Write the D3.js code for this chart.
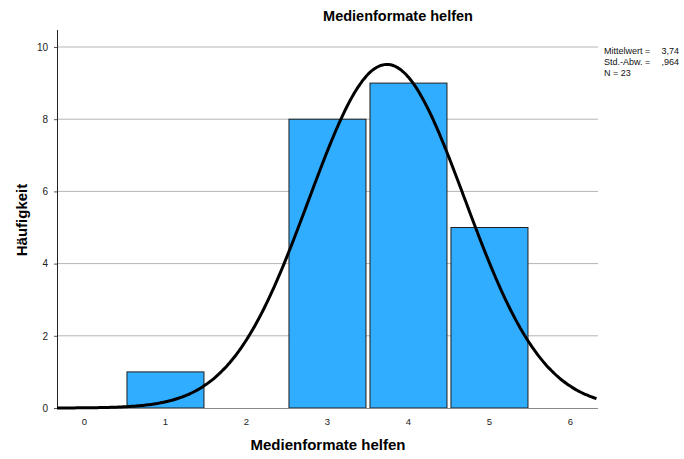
<!DOCTYPE html>
<html>
<head>
<meta charset="utf-8">
<script src="https://cdn.jsdelivr.net/npm/d3@7"></script>
<style>
  body { margin: 0; background: #fff; }
  text { font-family: Arial, "Liberation Sans", sans-serif; }
</style>
</head>
<body>
<svg width="684" height="459"></svg>
<script>
// Histogram data (bin centers and counts)
const bins = [1, 3, 4, 5];
const counts = [1, 8, 9, 5];
const xTicks = [0, 1, 2, 3, 4, 5, 6];
const yTicks = [0, 2, 4, 6, 8, 10];
const mean = 3.74, sd = 0.964, n = 23;
const statLabels = ["Mittelwert =", "Std.-Abw. =", "N = 23"];
const statValues = ["3,74", ",964", ""];

const svg = d3.select("svg");
const plotL = 57, plotR = 598, plotT = 30, plotB = 408;

const x = d3.scaleLinear().domain([-0.333, 6.346]).range([plotL, plotR]);
const y = d3.scaleLinear().domain([0, 10]).range([plotB, 47]);

// gridlines
svg.append("g")
    .selectAll("line")
    .data(yTicks.filter(d => d > 0))
    .enter().append("line")
    .attr("x1", plotL).attr("x2", plotR)
    .attr("y1", d => y(d)).attr("y2", d => y(d))
    .attr("stroke", "#b4b4b4")
    .attr("stroke-width", 1);

// bars
svg.append("g")
    .selectAll("rect")
    .data(bins)
    .enter().append("rect")
    .attr("x", d => x(d - 0.5) + 2.5)
    .attr("y", (d, i) => y(counts[i]))
    .attr("width", x(1) - x(0) - 4)
    .attr("height", (d, i) => y(0) - y(counts[i]))
    .attr("fill", "#31adff")
    .attr("stroke", "#1e1e1e")
    .attr("stroke-width", 1);

// x axis line
svg.append("line")
    .attr("x1", plotL).attr("x2", plotR)
    .attr("y1", plotB + 0.5).attr("y2", plotB + 0.5)
    .attr("stroke", "#8a8a8a");

// y axis
const yAxis = svg.append("g")
    .attr("transform", `translate(${plotL},0)`)
    .call(d3.axisLeft(y).tickValues(yTicks).tickSize(3).tickFormat(d3.format("d")));
yAxis.select(".domain").remove();
yAxis.selectAll("line").attr("stroke", "#555");
yAxis.selectAll("text").attr("font-size", 10).attr("fill", "#222").attr("x", -9);
svg.append("line")
    .attr("x1", plotL + 0.5).attr("x2", plotL + 0.5)
    .attr("y1", plotT).attr("y2", plotB + 1)
    .attr("stroke", "#222");

// x axis labels
const xAxis = svg.append("g")
    .attr("transform", `translate(0,${plotB})`)
    .call(d3.axisBottom(x).tickValues(xTicks).tickSize(0).tickFormat(d3.format("d")));
xAxis.select(".domain").remove();
xAxis.selectAll("text").attr("font-size", 9.5).attr("fill", "#222").attr("dy", "1.45em");

// normal curve
const curvePts = d3.range(-0.333, 6.347, 0.02).map(v => [v,
    n * Math.exp(-0.5 * Math.pow((v - mean) / sd, 2)) / (sd * Math.sqrt(2 * Math.PI))]);
svg.append("path")
    .datum(curvePts)
    .attr("d", d3.line().x(d => x(d[0])).y(d => y(d[1])).curve(d3.curveBasis))
    .attr("fill", "none")
    .attr("stroke", "#000")
    .attr("stroke-width", 3);

// titles
svg.append("text")
    .attr("x", 398).attr("y", 21)
    .attr("text-anchor", "middle")
    .attr("font-size", 14.5).attr("font-weight", "bold")
    .text("Medienformate helfen");

svg.append("text")
    .attr("x", 328).attr("y", 450)
    .attr("text-anchor", "middle")
    .attr("font-size", 15).attr("font-weight", "bold")
    .text("Medienformate helfen");

svg.append("text")
    .attr("transform", "translate(27,220) rotate(-90)")
    .attr("text-anchor", "middle")
    .attr("font-size", 15).attr("font-weight", "bold")
    .text("Häufigkeit");

// stats legend
const stats = svg.append("g").attr("font-size", 9).attr("fill", "#111");
stats.selectAll(".lab")
    .data(statLabels)
    .enter().append("text")
    .attr("x", 604)
    .attr("y", (d, i) => 54 + i * 11)
    .text(d => d);
stats.selectAll(".val")
    .data(statValues)
    .enter().append("text")
    .attr("x", 679)
    .attr("text-anchor", "end")
    .attr("y", (d, i) => 54 + i * 11)
    .text(d => d);
</script>
</body>
</html>
